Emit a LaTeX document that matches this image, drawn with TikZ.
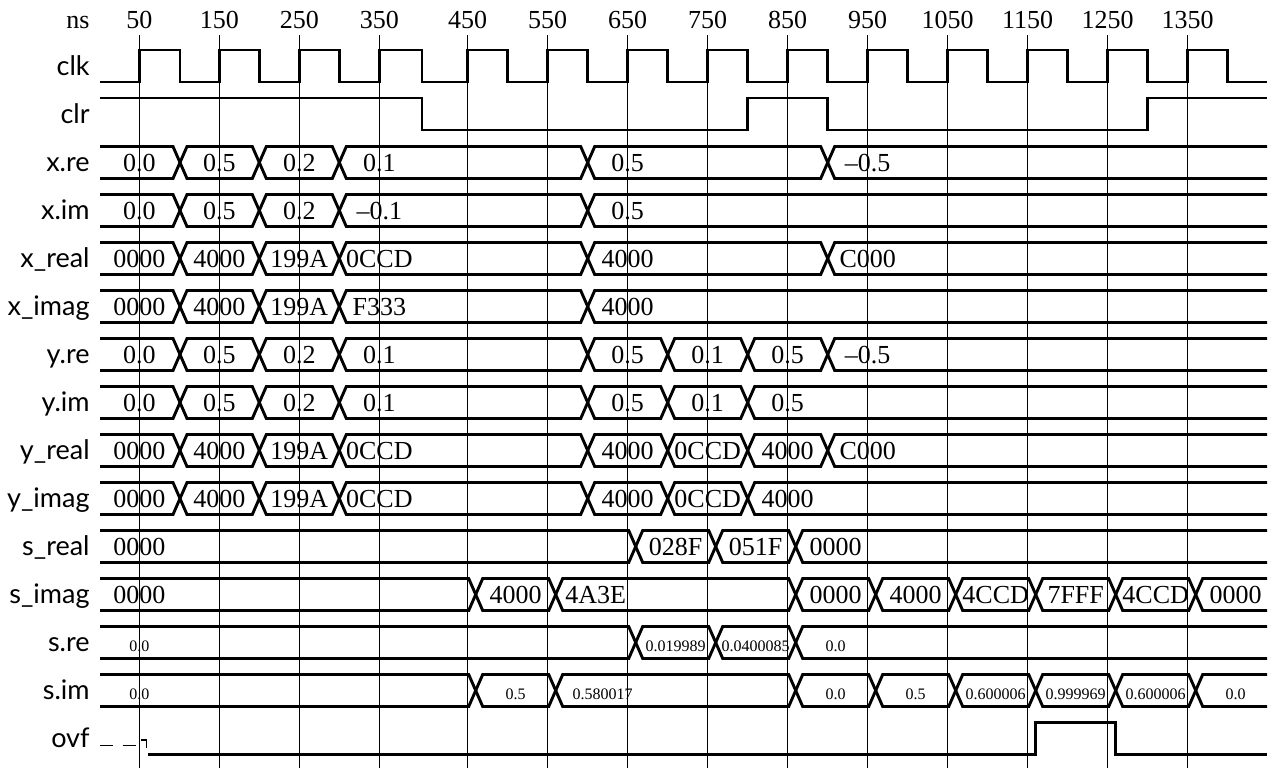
\documentclass[tikz,border=0pt]{standalone}
\usepackage{fontspec}
\setmainfont{Liberation Serif}
\newfontfamily\lblfont{Lato}
\newcommand\busrow[4]{%
 \foreach \a/\b/\lab/\lx [count=\k] in {#4} {%
   \ifdim\a pt<101pt
     \ifdim\b pt>1266pt
       \draw[sig] (\a,{#2-16}) -- (\b,{#2-16}) (\a,{#2+16}) -- (\b,{#2+16});
     \else
       \draw[sig] (\a,{#2-16}) -- ({\b-7},{#2-16}) -- (\b,#2) -- ({\b-7},{#2+16}) -- (\a,{#2+16});
     \fi
   \else
     \ifdim\b pt>1266pt
       \draw[sig] (\b,{#2-16}) -- ({\a+7},{#2-16}) -- (\a,#2) -- ({\a+7},{#2+16}) -- (\b,{#2+16});
     \else
       \draw[sig] (\a,#2) -- ({\a+7},{#2-16}) -- ({\b-7},{#2-16}) -- (\b,#2) -- ({\b-7},{#2+16}) -- ({\a+7},{#2+16}) -- cycle;
     \fi
   \fi
   \node[#3] (#1-\k) at (\lx,{#2+9}) {\lab};
 }}
\begin{document}
\begin{tikzpicture}[x=0.5pt,y=-0.5pt,
  sig/.style={line width=1.45pt, line join=miter},
  gridline/.style={line width=0.6pt},
  val/.style={font=\fontsize{13}{13}\selectfont, anchor=base, inner sep=0pt},
  sval/.style={font=\fontsize{8}{8}\selectfont, anchor=base, inner sep=0pt},
  rowlbl/.style={font=\lblfont\fontsize{13.5}{13.5}\selectfont, anchor=base east, inner sep=0pt},
  ax/.style={font=\fontsize{13}{13}\selectfont, anchor=base, inner sep=0pt}]
\useasboundingbox (0,0) rectangle (1272,768);
% time axis and grid
\node[ax, anchor=base east] (ns) at (90,28.3) {ns};
\foreach \t/\x in {50/139.3,150/219.3,250/299.3,350/379.3,450/467.7,550/547.7,650/627.7,750/707.7,850/787.7,950/867.7,1050/947.7,1150/1027.7,1250/1107.7,1350/1187.7} {
  \node[ax] (t\t) at (\x,28.3) {\t};
  \draw[gridline] (\x,35) -- (\x,768);
}
% row labels
\foreach \n/\lab [count=\i from 0] in {clk/clk,clr/clr,xre/x.re,xim/x.im,xreal/x\_real,ximag/x\_imag,yre/y.re,yim/y.im,yreal/y\_real,yimag/y\_imag,sreal/s\_real,simag/s\_imag,sre/s.re,sim/s.im,ovf/ovf} {
  \node[rowlbl] (L\n) at (90,{66.5+48*\i+9}) {\lab};
}
% clk
\draw[sig] (100,82) \foreach \r/\f in {139.3/180,219.3/259.3,299.3/339.3,379.3/422,467.7/507.7,547.7/587.7,627.7/667.7,707.7/747.7,787.7/827.7,867.7/907.7,947.7/987.7,1027.7/1067.7,1107.7/1147.7,1187.7/1227.7} { -- (\r,82) -- (\r,50) -- (\f,50) -- (\f,82) } -- (1267,82);
% clr
\draw[sig] (100,98) -- (422,98) -- (422,130) -- (747.7,130) -- (747.7,98) -- (827.7,98) -- (827.7,130) -- (1147.7,130) -- (1147.7,98) -- (1267,98);
% buses
\busrow{xre}{162.5}{val}{100/180/0.0/139.3, 180/259.3/0.5/219.3, 259.3/339.3/0.2/299.3, 339.3/587.7/0.1/379.3, 587.7/827.7/0.5/627.7, 827.7/1267/–0.5/867.7}
\busrow{xim}{210.5}{val}{100/180/0.0/139.3, 180/259.3/0.5/219.3, 259.3/339.3/0.2/299.3, 339.3/587.7/–0.1/379.3, 587.7/1267/0.5/627.7}
\busrow{xreal}{258.5}{val}{100/180/0000/139.3, 180/259.3/4000/219.3, 259.3/339.3/199A/299.3, 339.3/587.7/0CCD/379.3, 587.7/827.7/4000/627.7, 827.7/1267/C000/867.7}
\busrow{ximag}{306.5}{val}{100/180/0000/139.3, 180/259.3/4000/219.3, 259.3/339.3/199A/299.3, 339.3/587.7/F333/379.3, 587.7/1267/4000/627.7}
\busrow{yre}{354.5}{val}{100/180/0.0/139.3, 180/259.3/0.5/219.3, 259.3/339.3/0.2/299.3, 339.3/587.7/0.1/379.3, 587.7/667.7/0.5/627.7, 667.7/747.7/0.1/707.7, 747.7/827.7/0.5/787.7, 827.7/1267/–0.5/867.7}
\busrow{yim}{402.5}{val}{100/180/0.0/139.3, 180/259.3/0.5/219.3, 259.3/339.3/0.2/299.3, 339.3/587.7/0.1/379.3, 587.7/667.7/0.5/627.7, 667.7/747.7/0.1/707.7, 747.7/1267/0.5/787.7}
\busrow{yreal}{450.5}{val}{100/180/0000/139.3, 180/259.3/4000/219.3, 259.3/339.3/199A/299.3, 339.3/587.7/0CCD/379.3, 587.7/667.7/4000/627.7, 667.7/747.7/0CCD/707.7, 747.7/827.7/4000/787.7, 827.7/1267/C000/867.7}
\busrow{yimag}{498.5}{val}{100/180/0000/139.3, 180/259.3/4000/219.3, 259.3/339.3/199A/299.3, 339.3/587.7/0CCD/379.3, 587.7/667.7/4000/627.7, 667.7/747.7/0CCD/707.7, 747.7/1267/4000/787.7}
\busrow{sreal}{546.5}{val}{100/635.7/0000/139.3, 635.7/715.7/028F/675.7, 715.7/795.7/051F/755.7, 795.7/1267/0000/835.7}
\busrow{simag}{594.5}{val}{100/475.7/0000/139.3, 475.7/555.7/4000/515.7, 555.7/795.7/4A3E/595.7, 795.7/875.7/0000/835.7, 875.7/955.7/4000/915.7, 955.7/1035.7/4CCD/995.7, 1035.7/1115.7/7FFF/1075.7, 1115.7/1195.7/4CCD/1155.7, 1195.7/1267/0000/1235.7}
\busrow{sre}{642.5}{sval}{100/635.7/0.0/139.3, 635.7/715.7/0.019989/675.7, 715.7/795.7/0.0400085/755.7, 795.7/1267/0.0/835.7}
\busrow{sim}{690.5}{sval}{100/475.7/0.0/139.3, 475.7/555.7/0.5/515.7, 555.7/795.7/0.580017/602.5, 795.7/875.7/0.0/835.7, 875.7/955.7/0.5/915.7, 955.7/1035.7/0.600006/995.7, 1035.7/1115.7/0.999969/1075.7, 1115.7/1195.7/0.600006/1155.7, 1195.7/1267/0.0/1235.7}
% ovf
\coordinate (ovfA) at (100,745.5);
\coordinate (ovfB) at (137,745.5);
\draw[line width=0.8pt, dash pattern=on 6.6pt off 4.7pt] (ovfA) -- (ovfB);
\draw[line width=0.8pt] (141,740) -- (146.5,740) -- (146.5,748);
\draw[sig] (148,754.5) -- (1035.7,754.5) -- (1035.7,722.5) -- (1115.7,722.5) -- (1115.7,754.5) -- (1267,754.5);
\end{tikzpicture}
\end{document}
